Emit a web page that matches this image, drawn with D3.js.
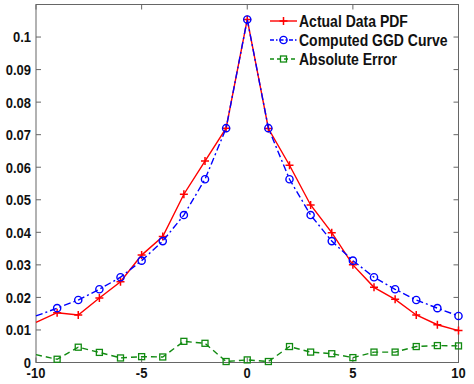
<!DOCTYPE html>
<html lang="en">
  <head>
    <meta charset="UTF-8" />
    <title>Actual PDF vs GGD fit</title>
    <style>
      body {
        margin: 0;
        background: #fff;
      }
      text {
        font-family: "Liberation Sans", Arial, sans-serif;
        font-weight: bold;
        fill: #111;
      }
    </style>
  </head>
  <body>
    <div id="chart"></div>

    <script src="https://d3js.org/d3.v7.min.js"></script>
    <script>
      // Values
      const xs = [-10, -9, -8, -7, -6, -5, -4, -3, -2, -1, 0, 1, 2, 3, 4, 5, 6, 7, 8, 9, 10];
      const actualPdf = [0.0123, 0.0153, 0.0146, 0.0198, 0.0248, 0.033, 0.0387, 0.0517, 0.0619, 0.072, 0.1054,
        0.0719, 0.0606, 0.0484, 0.0399, 0.030, 0.0231, 0.0194, 0.0146, 0.0116, 0.0098];
      const ggdCurve = [0.0143, 0.0167, 0.0192, 0.0225, 0.0262, 0.0313, 0.0373, 0.0453, 0.0563, 0.072, 0.1054,
        0.072, 0.0563, 0.0453, 0.0373, 0.0313, 0.0262, 0.0225, 0.0192, 0.0167, 0.0143];
      const absError = [0.0024, 0.0010, 0.0047, 0.0031, 0.0014, 0.0018, 0.0017, 0.0065, 0.0059, 0.0003, 0.0008,
        0.0003, 0.0049, 0.0032, 0.0027, 0.0015, 0.0032, 0.0032, 0.0049, 0.0052, 0.0051];
      const seriesNames = ["Actual Data PDF", "Computed GGD Curve", "Absolute Error"];
      const xTicks = [-10, -5, 0, 5, 10];
      const yTicks = [0, 0.01, 0.02, 0.03, 0.04, 0.05, 0.06, 0.07, 0.08, 0.09, 0.1];

      const width = 474;
      const height = 384;
      const margin = { top: 4.5, right: 15.5, bottom: 21.5, left: 36 };
      const innerW = width - margin.left - margin.right;
      const innerH = height - margin.top - margin.bottom;

      const x = d3.scaleLinear().domain([-10, 10]).range([0, innerW]);
      const y = d3.scaleLinear().domain([0, 0.11]).range([innerH, 0]);

      const svg = d3
        .select("#chart")
        .append("svg")
        .attr("width", width)
        .attr("height", height);

      const g = svg
        .append("g")
        .attr("transform", "translate(" + margin.left + "," + margin.top + ")");

      // box + inward ticks on all four sides, MATLAB style
      const axisColor = "#666";
      const tickLen = 5;

      g.append("rect")
        .attr("width", innerW)
        .attr("height", innerH)
        .attr("fill", "none")
        .attr("stroke", axisColor)
        .attr("stroke-width", 1);

      xTicks.forEach(function (t) {
        g.append("line")
          .attr("x1", x(t)).attr("x2", x(t))
          .attr("y1", innerH).attr("y2", innerH - tickLen)
          .attr("stroke", axisColor);
        g.append("line")
          .attr("x1", x(t)).attr("x2", x(t))
          .attr("y1", 0).attr("y2", tickLen)
          .attr("stroke", axisColor);
        g.append("text")
          .attr("x", x(t))
          .attr("y", innerH + 16)
          .attr("text-anchor", "middle")
          .attr("font-size", 13)
          .attr("transform", "translate(0," + (innerH + 16) + ") scale(1,1.15) translate(0," + -(innerH + 16) + ")")
          .text(t);
      });

      yTicks.forEach(function (t) {
        g.append("line")
          .attr("x1", 0).attr("x2", tickLen)
          .attr("y1", y(t)).attr("y2", y(t))
          .attr("stroke", axisColor);
        g.append("line")
          .attr("x1", innerW).attr("x2", innerW - tickLen)
          .attr("y1", y(t)).attr("y2", y(t))
          .attr("stroke", axisColor);
        g.append("text")
          .attr("x", -5)
          .attr("y", y(t))
          .attr("dy", "0.36em")
          .attr("text-anchor", "end")
          .attr("font-size", 13)
          .attr("transform", "translate(0," + y(t) + ") scale(1,1.15) translate(0," + -y(t) + ")")
          .text(d3.format("~g")(t));
      });

      const series = [
        { name: seriesNames[0], values: actualPdf, color: "#ff0000", dash: null, marker: "plus" },
        { name: seriesNames[1], values: ggdCurve, color: "#0000ff", dash: "7,3,2,3", marker: "circle" },
        { name: seriesNames[2], values: absError, color: "#118a11", dash: "6,4", marker: "square" }
      ];

      const line = d3
        .line()
        .x(function (d) { return x(d[0]); })
        .y(function (d) { return y(d[1]); });

      function drawMarker(sel, kind, cx, cy, color) {
        if (kind === "plus") {
          sel.append("path")
            .attr("d", "M" + (cx - 4) + "," + cy + "H" + (cx + 4) + "M" + cx + "," + (cy - 4) + "V" + (cy + 4))
            .attr("stroke", color).attr("stroke-width", 1.5).attr("fill", "none");
        } else if (kind === "circle") {
          sel.append("circle")
            .attr("cx", cx).attr("cy", cy).attr("r", 3.6)
            .attr("stroke", color).attr("stroke-width", 1.4).attr("fill", "none");
        } else {
          sel.append("rect")
            .attr("x", cx - 3).attr("y", cy - 3).attr("width", 6).attr("height", 6)
            .attr("stroke", color).attr("stroke-width", 1.3).attr("fill", "none");
        }
      }

      series.forEach(function (s) {
        const pts = xs.map(function (v, i) { return [v, s.values[i]]; });
        g.append("path")
          .datum(pts)
          .attr("d", line)
          .attr("fill", "none")
          .attr("stroke", s.color)
          .attr("stroke-width", 1.4)
          .attr("stroke-dasharray", s.dash);
        const m = g.append("g");
        // first sample sits on the left edge, no marker shown there
        pts.slice(1).forEach(function (p) {
          drawMarker(m, s.marker, x(p[0]), y(p[1]), s.color);
        });
      });

      // legend, no box
      const legend = svg.append("g");
      series.forEach(function (s, i) {
        const ly = 21 + i * 19;
        legend.append("line")
          .attr("x1", 270).attr("x2", 297)
          .attr("y1", ly).attr("y2", ly)
          .attr("stroke", s.color)
          .attr("stroke-width", 1.4)
          .attr("stroke-dasharray", s.dash ? (i === 1 ? "4,2,1.5,2" : "4,3") : null);
        drawMarker(legend, s.marker, 283.5, ly, s.color);
        legend.append("text")
          .attr("x", 299)
          .attr("y", ly)
          .attr("dy", "0.36em")
          .attr("font-size", 14)
          .attr("transform", "translate(0," + ly + ") scale(1,1.12) translate(0," + -ly + ")")
          .text(s.name);
      });
    </script>
  </body>
</html>
